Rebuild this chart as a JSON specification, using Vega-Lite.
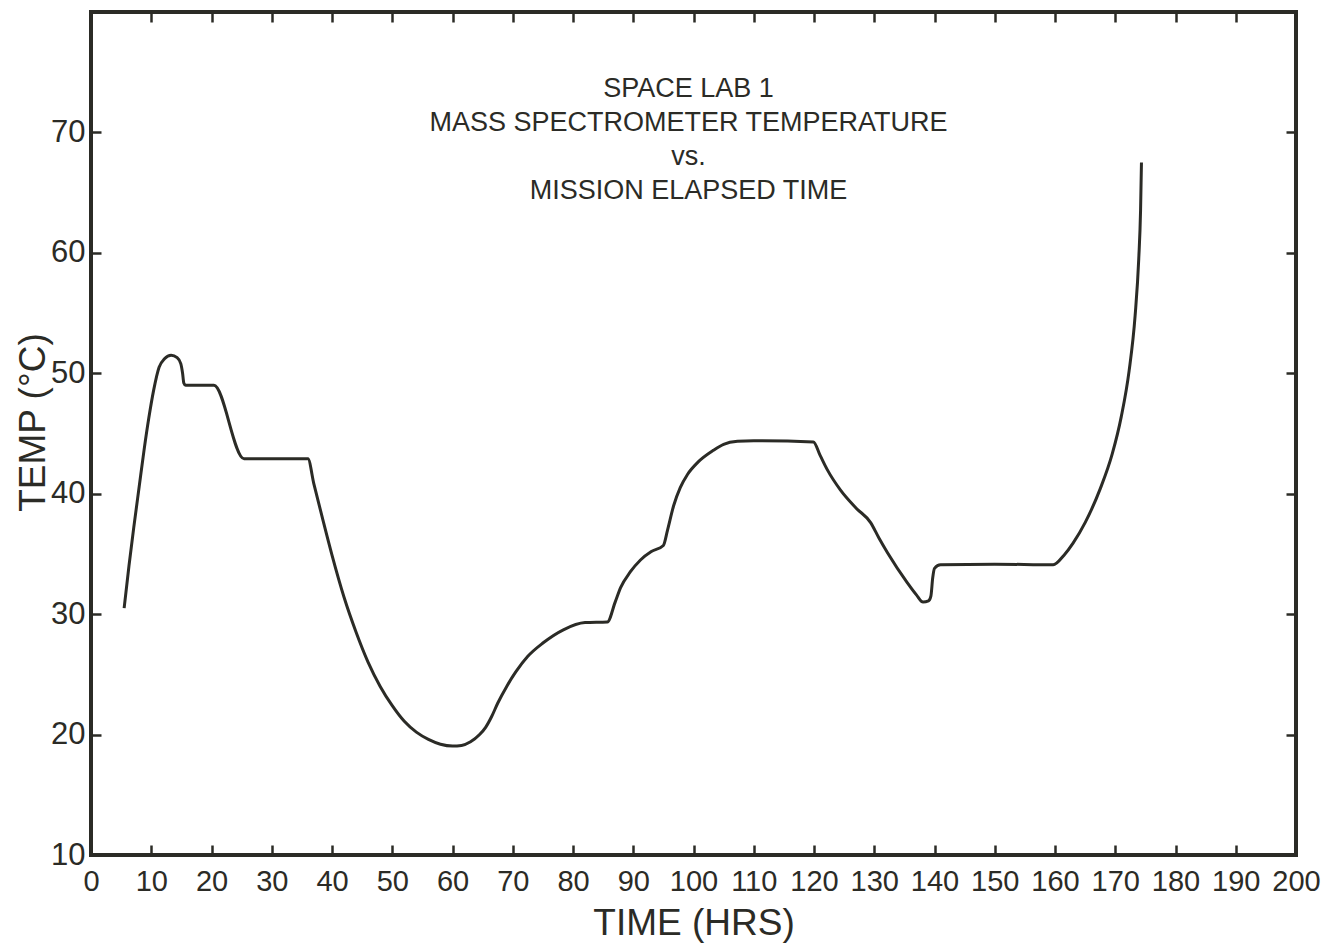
{
  "$schema": "https://vega.github.io/schema/vega-lite/v6.json",
  "autosize": "none",
  "width": 1205,
  "height": 843,
  "padding": {"left": 91, "top": 12, "right": 48, "bottom": 90},
  "background": "white",
  "title": {
    "text": ["SPACE LAB 1", "MASS SPECTROMETER TEMPERATURE", "vs.", "MISSION ELAPSED TIME"],
    "anchor": "middle",
    "frame": "group",
    "orient": "top",
    "offset": -194,
    "dx": -5,
    "font": "Liberation Sans",
    "fontSize": 27,
    "fontWeight": "normal",
    "lineHeight": 34,
    "color": "#2b2b26"
  },
  "config": {
    "view": {"stroke": "#2b2b26", "strokeWidth": 4},
    "axis": {
      "domain": false,
      "grid": false,
      "tickColor": "#2b2b26",
      "tickWidth": 2.5,
      "tickSize": 10,
      "offset": -10,
      "labelColor": "#2b2b26",
      "titleColor": "#2b2b26",
      "labelFont": "Liberation Sans",
      "titleFont": "Liberation Sans",
      "titleFontWeight": "normal"
    }
  },
  "data": {
    "values": [
      {"time": 5.5, "temp": 30.5}, {"time": 6.3, "temp": 34.0}, {"time": 7.1, "temp": 37.2},
      {"time": 8.0, "temp": 40.6}, {"time": 8.8, "temp": 43.6}, {"time": 9.6, "temp": 46.3},
      {"time": 10.4, "temp": 48.6}, {"time": 11.3, "temp": 50.5}, {"time": 12.2, "temp": 51.2},
      {"time": 13.3, "temp": 51.5}, {"time": 14.3, "temp": 51.3}, {"time": 14.9, "temp": 50.8},
      {"time": 15.2, "temp": 50.0}, {"time": 15.4, "temp": 49.2}, {"time": 15.7, "temp": 49.0},
      {"time": 20.4, "temp": 49.0}, {"time": 25.4, "temp": 42.9}, {"time": 36.0, "temp": 42.9},
      {"time": 37.0, "temp": 40.8}, {"time": 38.5, "temp": 37.8}, {"time": 40.0, "temp": 34.9},
      {"time": 42.0, "temp": 31.4}, {"time": 44.0, "temp": 28.5}, {"time": 46.0, "temp": 26.0},
      {"time": 48.0, "temp": 24.0}, {"time": 50.0, "temp": 22.4}, {"time": 52.0, "temp": 21.1},
      {"time": 54.0, "temp": 20.2}, {"time": 56.0, "temp": 19.6}, {"time": 58.0, "temp": 19.2},
      {"time": 60.0, "temp": 19.05}, {"time": 61.5, "temp": 19.1}, {"time": 63.0, "temp": 19.4},
      {"time": 64.5, "temp": 20.0}, {"time": 65.5, "temp": 20.6}, {"time": 66.5, "temp": 21.5},
      {"time": 67.5, "temp": 22.6}, {"time": 69.0, "temp": 24.0}, {"time": 70.5, "temp": 25.2},
      {"time": 72.5, "temp": 26.5}, {"time": 75.0, "temp": 27.6}, {"time": 78.4, "temp": 28.7},
      {"time": 82.0, "temp": 29.3}, {"time": 85.7, "temp": 29.35}, {"time": 87.0, "temp": 31.0},
      {"time": 87.9, "temp": 32.2}, {"time": 89.5, "temp": 33.5}, {"time": 91.2, "temp": 34.5},
      {"time": 93.0, "temp": 35.2}, {"time": 95.0, "temp": 35.7}, {"time": 95.7, "temp": 37.0},
      {"time": 96.7, "temp": 39.0}, {"time": 97.8, "temp": 40.5}, {"time": 99.0, "temp": 41.6},
      {"time": 100.7, "temp": 42.6}, {"time": 103.3, "temp": 43.6}, {"time": 105.0, "temp": 44.1},
      {"time": 107.3, "temp": 44.35}, {"time": 110.0, "temp": 44.4}, {"time": 119.9, "temp": 44.3},
      {"time": 121.0, "temp": 43.2}, {"time": 122.2, "temp": 42.0}, {"time": 124.4, "temp": 40.3},
      {"time": 127.0, "temp": 38.8}, {"time": 129.4, "temp": 37.6}, {"time": 130.8, "temp": 36.3},
      {"time": 132.2, "temp": 35.1}, {"time": 135.5, "temp": 32.6}, {"time": 137.0, "temp": 31.6},
      {"time": 138.1, "temp": 31.0}, {"time": 139.0, "temp": 31.1}, {"time": 139.4, "temp": 31.5},
      {"time": 139.7, "temp": 33.0}, {"time": 140.0, "temp": 33.8}, {"time": 141.0, "temp": 34.1},
      {"time": 150.0, "temp": 34.15}, {"time": 159.7, "temp": 34.1}, {"time": 161.5, "temp": 34.9},
      {"time": 163.0, "temp": 35.9}, {"time": 165.0, "temp": 37.6}, {"time": 167.5, "temp": 40.4},
      {"time": 169.5, "temp": 43.3}, {"time": 171.0, "temp": 46.4}, {"time": 172.3, "temp": 50.2},
      {"time": 173.3, "temp": 54.8}, {"time": 173.9, "temp": 59.5}, {"time": 174.2, "temp": 63.5},
      {"time": 174.35, "temp": 67.5}
    ]
  },
  "resolve": {"axis": {"x": "independent", "y": "independent"}},
  "layer": [
    {
      "mark": {"type": "line", "interpolate": "monotone", "color": "#2b2b26", "strokeWidth": 3},
      "encoding": {
        "x": {
          "field": "time", "type": "quantitative",
          "scale": {"domain": [0, 200], "nice": false, "zero": false},
          "axis": {
            "orient": "bottom",
            "title": "TIME (HRS)",
            "values": [0,10,20,30,40,50,60,70,80,90,100,110,120,130,140,150,160,170,180,190,200],
            "labelPadding": 12,
            "labelFontSize": 29,
            "labelFlush": false,
            "labelOverlap": false,
            "titleFontSize": 37,
            "titlePadding": 9
          }
        },
        "y": {
          "field": "temp", "type": "quantitative",
          "scale": {"domain": [10, 80], "nice": false, "zero": false},
          "axis": {
            "orient": "left",
            "title": "TEMP (°C)",
            "values": [10,20,30,40,50,60,70],
            "labelPadding": 6,
            "labelFontSize": 31,
            "labelFlush": false,
            "labelOverlap": false,
            "titleFontSize": 37,
            "titleX": -49,
            "titleY": 410
          }
        }
      }
    },
    {
      "mark": {"type": "line", "interpolate": "monotone", "strokeOpacity": 0},
      "encoding": {
        "x": {
          "field": "time", "type": "quantitative",
          "axis": {
            "orient": "top",
            "title": null,
            "labels": false,
            "values": [0,10,20,30,40,50,60,70,80,90,100,110,120,130,140,150,160,170,180,190,200]
          }
        },
        "y": {
          "field": "temp", "type": "quantitative",
          "axis": {
            "orient": "right",
            "title": null,
            "labels": false,
            "values": [10,20,30,40,50,60,70]
          }
        }
      }
    }
  ]
}
